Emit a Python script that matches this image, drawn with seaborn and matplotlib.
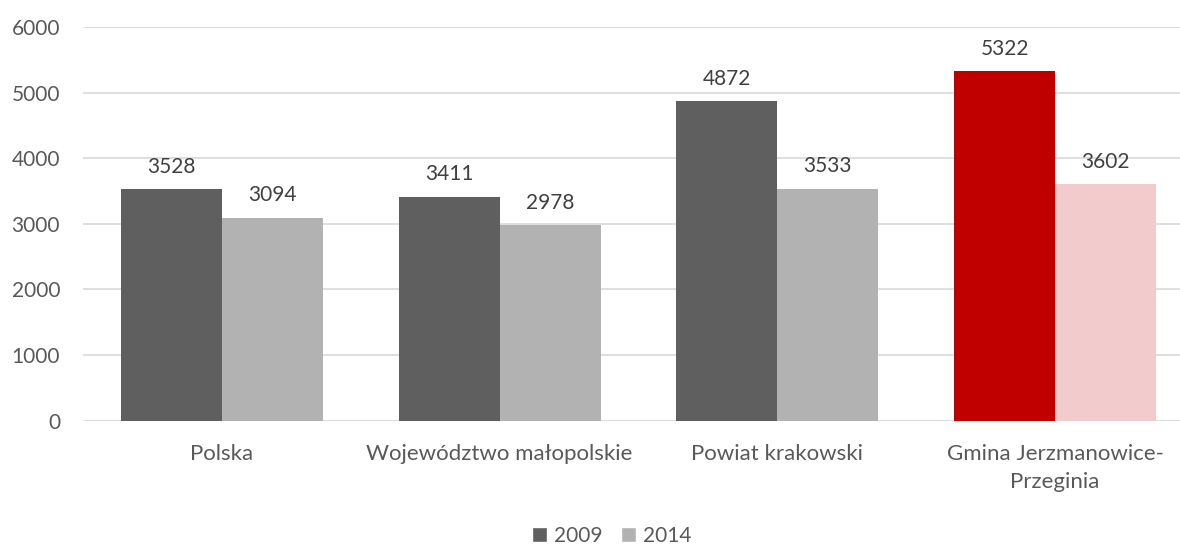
import matplotlib
matplotlib.use("Agg")
import matplotlib.pyplot as plt
import seaborn as sns
import pandas as pd
from matplotlib.patches import Patch

categories = ["Polska", "Województwo małopolskie", "Powiat krakowski", "Gmina Jerzmanowice-\nPrzeginia"]
years = ["2009", "2014"]
values_2009 = [3528, 3411, 4872, 5322]
values_2014 = [3094, 2978, 3533, 3602]

df = pd.DataFrame({
    "cat": categories * 2,
    "year": [years[0]] * 4 + [years[1]] * 4,
    "value": values_2009 + values_2014,
})

sns.set_theme(style="white")
plt.rcParams['font.family'] = ['Lato', 'DejaVu Sans']

fig = plt.figure(figsize=(11.8, 5.44), dpi=100)
x0, x1 = 83 / 1180, 1194 / 1180
ax = fig.add_axes([x0, (544 - 420.7) / 544, x1 - x0, (420.7 - 27) / 544])

palette = {"2009": "#5f5f5f", "2014": "#b2b2b2"}
sns.barplot(data=df, x="cat", y="value", hue="year", palette=palette,
            width=0.727, saturation=1, ax=ax, legend=False, linewidth=0)

# highlight the Gmina bars
hl = {"2009": "#c00000", "2014": "#f2cbcc"}
for cont, yr in zip(ax.containers, years):
    cont.patches[3].set_facecolor(hl[yr])
    ax.bar_label(cont, labels=[str(int(v)) for v in cont.datavalues],
                 padding=9, fontsize=15, color="#404040")

ax.set_ylim(0, 6000)
ax.set_yticks(range(0, 6001, 1000))
ax.set_xlim(-0.5, 3.5)
ax.yaxis.grid(True, color="#d9d9d9", linewidth=1.2)
ax.set_axisbelow(True)
for s in ax.spines.values():
    s.set_visible(False)
ax.set_xlabel("")
ax.set_ylabel("")
ax.tick_params(axis="y", length=0, labelsize=15, labelcolor="#595959", pad=16.5)
ax.tick_params(axis="x", length=0, labelsize=16, labelcolor="#595959", pad=17)
for t in ax.get_xticklabels():
    t.set_linespacing(1.5)

handles = [Patch(facecolor=palette[y], label=y) for y in years]
fig.legend(handles=handles, loc="center", bbox_to_anchor=(612 / 1180, 1 - 536 / 544),
           ncol=2, frameon=False, fontsize=15, handlelength=0.7, handleheight=0.7,
           handletextpad=0.35, columnspacing=0.9, labelcolor="#595959")

fig.savefig("out.png", dpi=100)
